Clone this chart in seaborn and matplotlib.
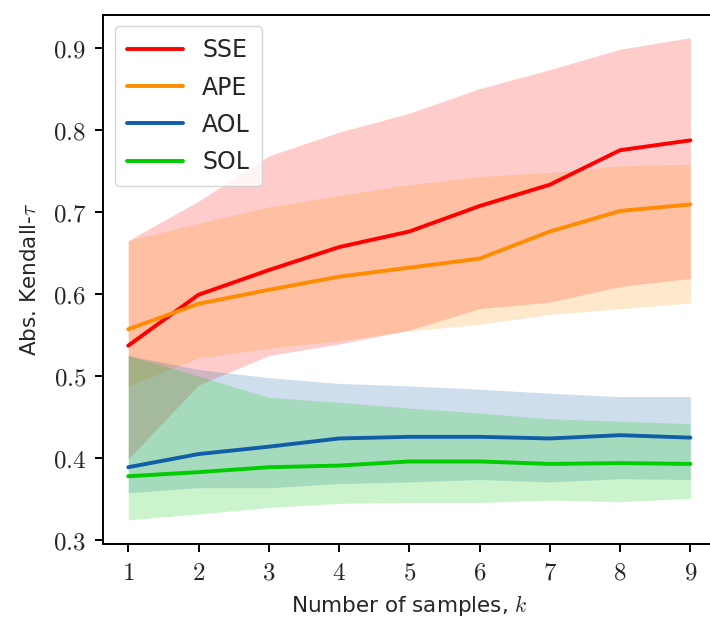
import numpy as np
import pandas as pd
import matplotlib
matplotlib.use("Agg")
import matplotlib.pyplot as plt
import seaborn as sns

k = [1, 2, 3, 4, 5, 6, 7, 8, 9]
methods = ["SSE", "APE", "AOL", "SOL"]
colors = ["#ff0000", "#ff8c00", "#105ea8", "#00cc00"]

sse_mean = [0.537, 0.599, 0.629, 0.657, 0.676, 0.707, 0.733, 0.775, 0.787]
sse_low = [0.399, 0.489, 0.525, 0.539, 0.556, 0.582, 0.590, 0.609, 0.619]
sse_high = [0.665, 0.713, 0.768, 0.797, 0.820, 0.850, 0.873, 0.898, 0.912]

ape_mean = [0.557, 0.588, 0.605, 0.621, 0.632, 0.643, 0.676, 0.701, 0.709]
ape_low = [0.488, 0.522, 0.534, 0.543, 0.555, 0.563, 0.575, 0.582, 0.589]
ape_high = [0.665, 0.686, 0.706, 0.720, 0.733, 0.743, 0.748, 0.756, 0.758]

aol_mean = [0.389, 0.405, 0.414, 0.424, 0.426, 0.426, 0.424, 0.428, 0.425]
aol_low = [0.358, 0.364, 0.364, 0.369, 0.371, 0.374, 0.371, 0.375, 0.374]
aol_high = [0.525, 0.508, 0.498, 0.491, 0.488, 0.484, 0.479, 0.475, 0.475]

sol_mean = [0.378, 0.383, 0.389, 0.391, 0.396, 0.396, 0.393, 0.394, 0.393]
sol_low = [0.325, 0.332, 0.340, 0.345, 0.346, 0.346, 0.349, 0.347, 0.351]
sol_high = [0.525, 0.500, 0.474, 0.468, 0.461, 0.455, 0.448, 0.445, 0.442]

y_ticks = [0.3, 0.4, 0.5, 0.6, 0.7, 0.8, 0.9]

means = {"SSE": sse_mean, "APE": ape_mean, "AOL": aol_mean, "SOL": sol_mean}
lows = {"SSE": sse_low, "APE": ape_low, "AOL": aol_low, "SOL": sol_low}
highs = {"SSE": sse_high, "APE": ape_high, "AOL": aol_high, "SOL": sol_high}

sns.set_style("ticks")
plt.rcParams["font.family"] = ["DejaVu Sans"]
plt.rcParams["mathtext.fontset"] = "cm"

df = pd.DataFrame({
    "k": np.tile(k, len(methods)),
    "method": np.repeat(methods, len(k)),
    "tau": np.concatenate([means[m] for m in methods]),
})

fig = plt.figure(figsize=(7.1, 6.22), dpi=100)
ax = fig.add_axes([0.145, 0.1254, 0.863, 0.851])

for m, c in zip(methods, colors):
    ax.fill_between(k, lows[m], highs[m], color=c, alpha=0.2, linewidth=0)

sns.lineplot(data=df, x="k", y="tau", hue="method", hue_order=methods,
             palette=colors, linewidth=2.8, ax=ax, legend=True)

ax.set_xlim(0.64, 9.36)
ax.set_ylim(0.2955, 0.94)
ax.set_xticks(k)
ax.set_xticklabels([f"${v}$" for v in k], fontsize=18)
ax.set_yticks(y_ticks)
ax.set_yticklabels([f"${v:.1f}$" for v in y_ticks], fontsize=18)
ax.tick_params(axis="both", direction="out", length=6, width=1.4, color="black", pad=6)
for s in ax.spines.values():
    s.set_linewidth(1.4)
    s.set_color("black")
ax.spines["right"].set_visible(False)

ax.set_xlabel(r"Number of samples, $k$", fontsize=15.5, labelpad=6)
ax.set_ylabel(r"Abs. Kendall-$\tau$", fontsize=15.5, labelpad=9)

leg = ax.legend(loc="upper left", fontsize=17, handlelength=2.4, labelspacing=0.56,
                borderpad=0.5, frameon=True, fancybox=True)
for line in leg.get_lines():
    line.set_linewidth(2.8)

fig.savefig("out.png", dpi=100)
